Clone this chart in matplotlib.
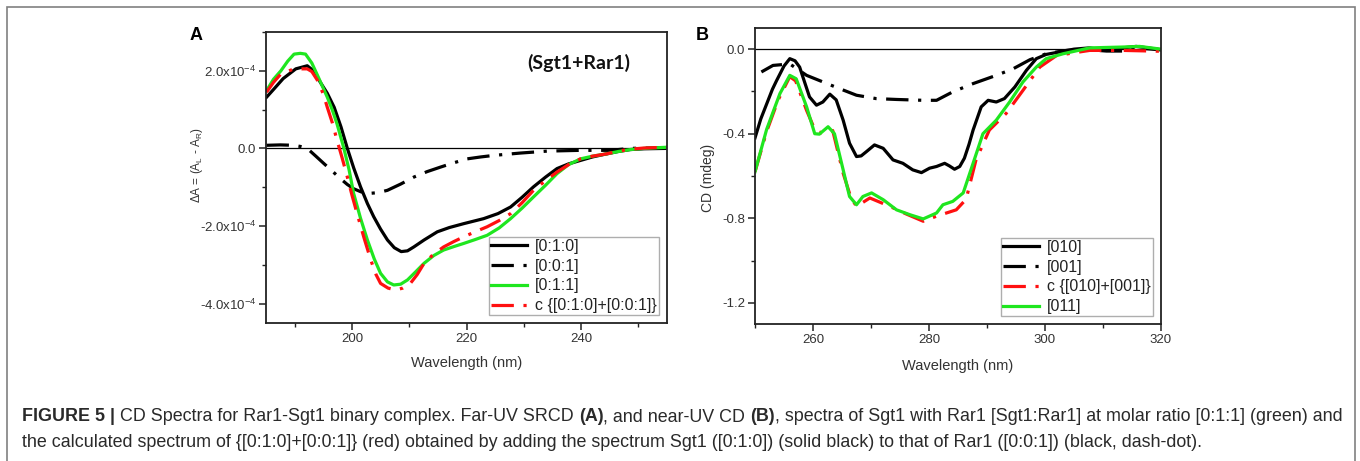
import matplotlib
matplotlib.use('Agg')
import matplotlib.pyplot as plt
from matplotlib.patches import Rectangle
from matplotlib.ticker import MultipleLocator, FixedLocator, FixedFormatter
import numpy as np

plt.rcParams['font.family'] = ['Liberation Sans', 'DejaVu Sans']
plt.rcParams['axes.unicode_minus'] = False
plt.rcParams['mathtext.fontset'] = 'custom'
plt.rcParams['mathtext.rm'] = 'Liberation Sans'
plt.rcParams['mathtext.it'] = 'Liberation Sans:italic'
plt.rcParams['mathtext.bf'] = 'Liberation Sans:bold'

# ---------------- Panel A data (delta A in units of 1e-4) ----------------
a010_wl = [185.1, 186.5, 188, 190.2, 192.2, 193.3, 194.5, 195.7, 196.9, 198.1, 199.2, 200.3,
           201.5, 202.7, 203.8, 205, 206.2, 207.4, 208.6, 209.7, 210.8, 212.6, 214.9, 217,
           219.5, 223, 225.5, 227.7, 229.7, 231.7, 233.8, 235.8, 237.8, 239.9, 242, 244.5,
           246.5, 248.6, 251, 255]
a010_v = [1.32, 1.55, 1.80, 2.05, 2.13, 2.0, 1.70, 1.42, 1.06, 0.55, 0.0, -0.50,
          -0.99, -1.42, -1.76, -2.08, -2.36, -2.56, -2.66, -2.64, -2.54, -2.36, -2.15, -2.04,
          -1.94, -1.81, -1.68, -1.51, -1.26, -0.99, -0.74, -0.52, -0.40, -0.31, -0.22, -0.14,
          -0.08, -0.03, -0.01, 0.0]

a001_wl = [185.1, 187.5, 189.9, 191, 192.2, 193.7, 195.1, 196.6, 198, 199.2, 200.3, 201.6,
           203, 204.6, 206.2, 208.5, 210.8, 213.1, 215.5, 217.8, 220.1, 222.5, 224.8, 229.4,
           234.1, 239.9, 245.1, 248.6, 255]
a001_v = [0.08, 0.09, 0.08, 0.05, 0.0, -0.20, -0.39, -0.59, -0.78, -0.93, -1.04, -1.12,
          -1.16, -1.14, -1.08, -0.92, -0.74, -0.60, -0.48, -0.37, -0.27, -0.22, -0.18, -0.12,
          -0.07, -0.05, -0.05, 0.0, 0.02]

a011_wl = [185.1, 186.3, 187.6, 188.8, 189.9, 191.0, 191.9, 193, 194, 195.7, 196.6, 197.4,
           198.6, 199.5, 200.3, 201.5, 202.7, 203.9, 205, 206.2, 207.3, 208.5, 209.7, 211.2,
           212.6, 214.3, 216, 217.8, 219.5, 221.5, 223.6, 225.7, 227.7, 229.7, 231.7, 233.8,
           235.8, 237.8, 239.9, 242, 244.5, 246.5, 248.6, 251, 255]
a011_v = [1.49, 1.78, 2.00, 2.25, 2.43, 2.45, 2.43, 2.20, 1.88, 1.32, 0.98, 0.63,
          0.0, -0.55, -1.16, -1.80, -2.36, -2.85, -3.22, -3.44, -3.52, -3.50, -3.39, -3.17,
          -2.96, -2.76, -2.62, -2.53, -2.45, -2.35, -2.24, -2.05, -1.81, -1.54, -1.25, -0.95,
          -0.65, -0.42, -0.27, -0.20, -0.14, -0.08, -0.03, 0.0, 0.03]

acalc_wl = [185.1, 186.3, 187.6, 189.9, 192.2, 193, 194, 195, 195.7, 196.6, 197.4, 198.3,
            199.2, 200.0, 200.9, 202.1, 203.3, 204.2, 205, 206.3, 207.6, 208.9, 210.2, 211.4,
            212.6, 214.3, 216, 217.8, 219.5, 221.5, 223.6, 225.7, 227.7, 229.7, 231.7, 233.8,
            235.8, 237.8, 239.9, 242, 244.5, 246.5, 248.6, 251, 255]
acalc_v = [1.45, 1.70, 1.92, 2.05, 2.05, 1.98, 1.75, 1.40, 1.06, 0.65, 0.21, -0.25,
           -0.74, -1.20, -1.68, -2.30, -2.88, -3.25, -3.48, -3.60, -3.65, -3.60, -3.48, -3.25,
           -2.96, -2.72, -2.54, -2.40, -2.28, -2.15, -2.02, -1.86, -1.68, -1.40, -1.08, -0.83,
           -0.61, -0.42, -0.27, -0.20, -0.14, -0.07, -0.02, 0.01, 0.03]

a_labels = ['[0:1:0]', '[0:0:1]', '[0:1:1]', 'c {[0:1:0]+[0:0:1]}']
a_yticks = [-4e-4, -2e-4, 0.0, 2e-4]
a_yticklabels = [r'-4.0x10$^{-4}$', r'-2.0x10$^{-4}$', '0.0', r'2.0x10$^{-4}$']
a_xticks = [200, 220, 240]

# ---------------- Panel B data (CD, mdeg) ----------------
b010_wl = [250, 251, 252, 253, 253.7, 255, 256, 256.9, 257.7, 258.6, 259.4, 260.6, 261.7,
           262.9, 264, 265.2, 266.3, 267.5, 268.3, 269.2, 270.6, 272.1, 273.8, 275.5, 277.2,
           278.7, 280.1, 281.3, 282.7, 283.5, 284.4, 285.3, 286.1, 286.9, 287.6, 289, 290.2,
           291.6, 293, 294.8, 296.8, 298.5, 300.2, 303.1, 305, 307.7, 310, 313.4, 315.7, 318, 320]
b010_v = [-0.42, -0.33, -0.26, -0.19, -0.15, -0.08, -0.045, -0.055, -0.085, -0.16, -0.226, -0.265, -0.25,
          -0.213, -0.24, -0.336, -0.445, -0.508, -0.505, -0.485, -0.453, -0.469, -0.524, -0.54, -0.571,
          -0.584, -0.563, -0.555, -0.54, -0.552, -0.568, -0.555, -0.516, -0.45, -0.383, -0.273, -0.242,
          -0.25, -0.234, -0.179, -0.10, -0.045, -0.025, -0.01, 0.0, 0.006, -0.005, 0.006, 0.013, 0.005, -0.003]

b001_wl = [251.1, 253.1, 256, 258.9, 261.7, 264.6, 267.5, 270.9, 274.4, 279, 281.3, 284.1,
           287.6, 291.6, 294.5, 297.4, 300.2, 303.7, 307.7, 310.6, 313.4, 316, 320]
b001_v = [-0.108, -0.077, -0.07, -0.124, -0.155, -0.187, -0.218, -0.234, -0.238, -0.242, -0.242, -0.202,
          -0.163, -0.124, -0.093, -0.05, -0.022, -0.006, -0.003, -0.009, -0.009, 0.005, -0.003]

bcalc_wl = [250, 252, 254, 256, 257, 258.9, 260.3, 261.7, 263.4, 265.2, 266.5, 267.5, 269.8,
            273.2, 276.1, 279, 281.3, 284.7, 286.4, 288.1, 290.4, 293.3, 296.2, 299.1, 302,
            307.7, 313.4, 320]
bcalc_v = [-0.58, -0.39, -0.24, -0.13, -0.15, -0.29, -0.38, -0.40, -0.385, -0.587, -0.70, -0.744, -0.704,
           -0.743, -0.78, -0.814, -0.79, -0.76, -0.71, -0.524, -0.383, -0.304, -0.195, -0.085, -0.03,
           -0.006, -0.006, -0.01]

b011_wl = [250, 252, 254.3, 256, 257.1, 258.9, 260.3, 261.1, 262.6, 263.7, 265.2, 266.3, 267.5,
           268.6, 270.1, 272.1, 274.4, 276.7, 279, 281.3, 282.4, 284.1, 285.9, 287.6, 289.3,
           291.6, 293.9, 296.2, 298.5, 300.2, 303.1, 307.7, 313.4, 316.3, 320]
b011_v = [-0.58, -0.38, -0.21, -0.124, -0.14, -0.273, -0.40, -0.402, -0.367, -0.40, -0.571, -0.697, -0.736,
          -0.697, -0.68, -0.712, -0.76, -0.783, -0.803, -0.775, -0.736, -0.72, -0.68, -0.54, -0.40,
          -0.336, -0.25, -0.155, -0.085, -0.045, -0.022, 0.006, 0.01, 0.013, 0.0]

b_labels = ['[010]', '[001]', 'c {[010]+[001]}', '[011]']
b_yticks = [-1.2, -0.8, -0.4, 0.0]
b_yticklabels = ['-1.2', '-0.8', '-0.4', '0.0']
b_xticks = [260, 280, 300, 320]

caption_line1 = [('FIGURE 5 |', True),
                 (' CD Spectra for Rar1-Sgt1 binary complex. Far-UV SRCD ', False),
                 ('(A)', True), (', and near-UV CD ', False), ('(B)', True),
                 (', spectra of Sgt1 with Rar1 [Sgt1:Rar1] at molar ratio [0:1:1] (green) and', False)]
caption_line2 = [('the calculated spectrum of {[0:1:0]+[0:0:1]} (red) obtained by adding the spectrum '
                  'Sgt1 ([0:1:0]) (solid black) to that of Rar1 ([0:0:1]) (black, dash-dot).', False)]

# ---------------- Figure ----------------
W, H = 1360, 461
fig = plt.figure(figsize=(W / 100, H / 100), dpi=100)
fig.patch.set_facecolor('white')

def px_axes(l, t, r, b):
    return fig.add_axes([l / W, 1 - b / H, (r - l) / W, (b - t) / H])

axA = px_axes(266, 32, 667, 323)
axB = px_axes(755, 28, 1161, 324)

BLACK = '#000000'
GREEN = '#1fe61f'
RED = '#ff1010'
LW = 2.3
DASHDOT = (0, (7, 3, 1.0, 3))

# Panel A
axA.axhline(0, color='black', lw=0.9, zorder=1)
axA.plot(a010_wl, np.array(a010_v) * 1e-4, color=BLACK, lw=LW, label=a_labels[0])
axA.plot(a001_wl, np.array(a001_v) * 1e-4, color=BLACK, lw=LW, ls=DASHDOT, label=a_labels[1])
axA.plot(a011_wl, np.array(a011_v) * 1e-4, color=GREEN, lw=LW, label=a_labels[2])
axA.plot(acalc_wl, np.array(acalc_v) * 1e-4, color=RED, lw=LW, ls=DASHDOT, label=a_labels[3])
axA.set_xlim(185, 255)
axA.set_ylim(-4.5e-4, 3.0e-4)
axA.yaxis.set_major_locator(FixedLocator(a_yticks))
axA.yaxis.set_major_formatter(FixedFormatter(a_yticklabels))
axA.yaxis.set_minor_locator(MultipleLocator(1e-4))
axA.xaxis.set_major_locator(FixedLocator(a_xticks))
axA.xaxis.set_minor_locator(MultipleLocator(10))

# Panel B
axB.axhline(0, color='black', lw=0.9, zorder=1)
axB.plot(b010_wl, b010_v, color=BLACK, lw=LW, label=b_labels[0])
axB.plot(b001_wl, b001_v, color=BLACK, lw=LW, ls=DASHDOT, label=b_labels[1])
axB.plot(bcalc_wl, bcalc_v, color=RED, lw=LW, ls=DASHDOT, label=b_labels[2])
axB.plot(b011_wl, b011_v, color=GREEN, lw=LW, label=b_labels[3])
axB.set_xlim(250, 320)
axB.set_ylim(-1.3, 0.1)
axB.yaxis.set_major_locator(FixedLocator(b_yticks))
axB.yaxis.set_major_formatter(FixedFormatter(b_yticklabels))
axB.yaxis.set_minor_locator(MultipleLocator(0.2))
axB.xaxis.set_major_locator(FixedLocator(b_xticks))
axB.xaxis.set_minor_locator(MultipleLocator(10))

for ax in (axA, axB):
    for s in ax.spines.values():
        s.set_linewidth(1.3)
        s.set_color('#222222')
    ax.tick_params(which='major', direction='out', length=5, width=1.1, color='#222222',
                   labelsize=9.5, labelcolor='#333333', pad=2)
    ax.tick_params(which='minor', direction='out', length=3, width=1.0, color='#222222')
    ax.set_xlabel('Wavelength (nm)', fontsize=10.5, color='#333333')
    leg = ax.legend(loc='lower right', fontsize=11.5, frameon=True, fancybox=False,
                    handlelength=2.3, handletextpad=0.5, labelspacing=0.3,
                    borderpad=0.12, borderaxespad=0.5)
    leg.get_frame().set_edgecolor('#9a9a9a')
    leg.get_frame().set_linewidth(1.0)
    for t in leg.get_texts():
        t.set_color('#222222')

axA.set_ylabel('ΔA = (A$_\\mathregular{L}$ - A$_\\mathregular{R}$)', fontsize=8.5, color='#333333')
axA.yaxis.set_label_coords(-0.152, 0.543)
axB.set_ylabel('CD (mdeg)', fontsize=10, color='#333333')
axB.yaxis.set_label_coords(-0.0985, 0.493)
axA.xaxis.set_label_coords(0.5, -0.112)
axB.xaxis.set_label_coords(0.5, -0.118)

axA.text(527 / W, 1 - 63 / H, '(Sgt1+Rar1)', transform=fig.transFigure, fontsize=14,
         fontweight='bold', family=['Lato', 'DejaVu Sans'], color='#111111', va='center', ha='left')

fig.text(190 / W, 1 - 35 / H, 'A', fontsize=13, fontweight='bold', va='center', ha='left')
fig.text(696 / W, 1 - 35 / H, 'B', fontsize=13, fontweight='bold', va='center', ha='left')

# outer border
fig.add_artist(Rectangle((7 / W, -0.05), (1355 - 7) / W, 1.05 - 7 / H, transform=fig.transFigure,
                         fill=False, edgecolor='#808080', linewidth=1.2))

# caption
renderer = fig.canvas.get_renderer()

def line_width(pieces, fs):
    total = 0
    for txt, bold in pieces:
        t = fig.text(0, 0, txt, fontsize=fs, fontweight='bold' if bold else 'normal')
        total += t.get_window_extent(renderer=renderer).width
        t.remove()
    return total

def draw_line(pieces, x0, ybase, fs):
    x = x0
    for txt, bold in pieces:
        t = fig.text(x / W, 1 - ybase / H, txt, fontsize=fs, fontweight='bold' if bold else 'normal',
                     color='#2a2a2a', va='baseline', ha='left')
        x += t.get_window_extent(renderer=renderer).width

w12 = line_width(caption_line1, 12)
fs_cap = 12 * (1339 - 22) / w12
draw_line(caption_line1, 22, 421, fs_cap)
draw_line(caption_line2, 22, 447, fs_cap)

fig.savefig('out.png', dpi=100)
